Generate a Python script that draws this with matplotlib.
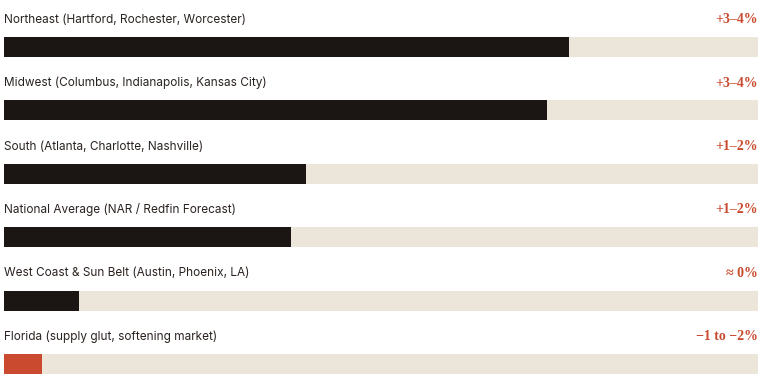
import matplotlib.pyplot as plt

# regional price growth forecast (share of bar filled, %)
regions = [
    "Northeast (Hartford, Rochester, Worcester)",
    "Midwest (Columbus, Indianapolis, Kansas City)",
    "South (Atlanta, Charlotte, Nashville)",
    "National Average (NAR / Redfin Forecast)",
    "West Coast & Sun Belt (Austin, Phoenix, LA)",
    "Florida (supply glut, softening market)",
]
fill = [75, 72, 40, 38, 10, 5]
value_labels = ["+3\u20134%", "+3\u20134%", "+1\u20132%", "+1\u20132%", "\u2248 0%", "\u22121 to \u22122%"]
highlight = [False, False, False, False, False, True]

dark = "#1b1514"
track = "#ece6da"
accent = "#c94a2f"

fig = plt.figure(figsize=(7.7, 3.88), dpi=100)
ax = fig.add_axes([0, 0, 1, 1])
ax.set_xlim(-4 / 754 * 100, 766 / 754 * 100)
ax.set_ylim(341 / 63.4, -47 / 63.4)
ax.axis("off")

ypos = list(range(len(regions)))
h = 20 / 63.4
ax.barh(ypos, [100] * len(regions), height=h, color=track, zorder=1)
ax.barh(ypos, fill, height=h, color=[accent if f else dark for f in highlight], zorder=2)

for i, (name, val) in enumerate(zip(regions, value_labels)):
    ax.text(0, i - 0.43, name, ha="left", va="center", fontsize=8.5,
            family="Inter", color="#2a2320")
    ax.text(100, i - 0.43, val, ha="right", va="center", fontsize=10,
            family="Liberation Serif", weight="bold", color=accent)

fig.savefig("out.png", dpi=100, facecolor="white")
